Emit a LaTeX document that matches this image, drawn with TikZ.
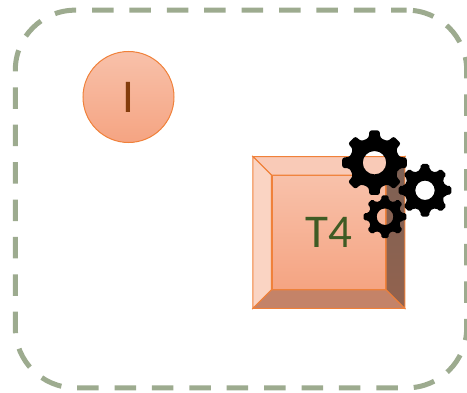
\documentclass[tikz,border=0pt]{standalone}
\usepackage{fontspec}
\setmainfont{Carlito}
\usepackage{xcolor}
\definecolor{framegreen}{HTML}{9DAB8F}
\definecolor{edgeorange}{HTML}{F0813A}
\definecolor{fillhi}{HTML}{F8C1AA}
\definecolor{filllo}{HTML}{F5A482}
\definecolor{textbrown}{HTML}{843C0C}
\definecolor{textgreen}{HTML}{3F5B24}
\usetikzlibrary{positioning,calc}
\newcommand{\gearat}[4]{% x, y, outer radius, hole radius
  \begin{scope}[shift={(#1,#2)}]
    \fill[black, even odd rule, rounded corners=0.07*#3 pt]
      (-22.5:0.76*#3)
      \foreach \a in {0,45,...,315} {
        -- (\a-13:0.78*#3) -- (\a-9:#3) -- (\a+9:#3) -- (\a+13:0.78*#3) -- (\a+22.5:0.76*#3)
      } -- cycle
      (0,0) circle[radius=#4];
  \end{scope}
}
\begin{document}
\begin{tikzpicture}[
  x=1pt, y=1pt,
  font=\fontsize{47}{47}\selectfont,
  frame/.style={draw=framegreen, line width=5pt, rounded corners=60pt,
    dash pattern=on 21.5pt off 15.9pt, dash phase=6pt, minimum width=451.4pt,
    minimum height=377.7pt, inner sep=0pt},
  R/.style={draw=edgeorange, line width=1pt, top color=fillhi, bottom color=filllo,
    inner sep=0pt},
  bev/.style={draw=edgeorange, line width=1pt}
]
  \useasboundingbox (0,0) rectangle (467,392);
  \node[frame] (fr) at (241,193) {};
  \node[R, circle, minimum size=91pt, text=textbrown] (i) at (128.5,295) {I};
  \node[minimum size=151.5pt, inner sep=0pt] (b) at (328.8,159.5) {};
  \node[R, minimum size=113.5pt, text=textgreen, line width=1.2pt] (t4) at (b.center) {T4};
  % bevel faces
  \draw[bev, fill=fillhi!85!white] (b.north west) -- (b.north east) -- (t4.north east) -- (t4.north west) -- cycle;
  \draw[bev, fill=fillhi!70!white] (b.north west) -- (b.south west) -- (t4.south west) -- (t4.north west) -- cycle;
  \draw[bev, fill=brown!0!orange!0!black!0!white, fill=filllo!80!black] (b.south west) -- (b.south east) -- (t4.south east) -- (t4.south west) -- cycle;
  \draw[bev, top color=fillhi!50!black, bottom color=filllo!60!black] (b.north east) -- (b.south east) -- (t4.south east) -- (t4.north east) -- cycle;
  \gearat{374.5}{229.3}{32.7}{11.7}
  \gearat{425}{201.7}{26.7}{9.7}
  \gearat{385}{175.3}{21.7}{8.3}
\end{tikzpicture}
\end{document}
